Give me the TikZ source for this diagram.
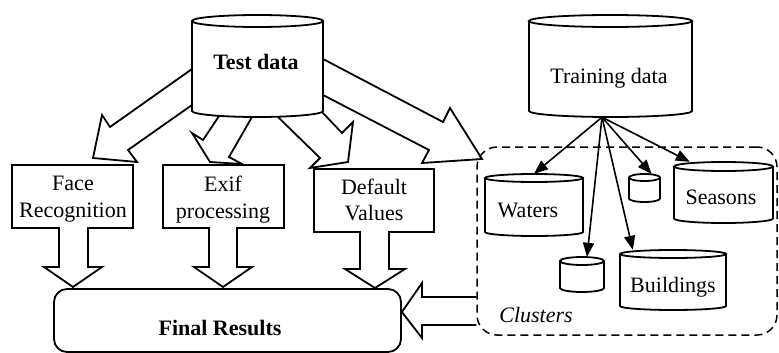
\documentclass[tikz,border=0pt]{standalone}
\usepackage{fontspec}
\setmainfont{Liberation Serif}
\usetikzlibrary{arrows.meta,calc}
\begin{document}
\begin{tikzpicture}[x=1pt,y=-1pt,
  outl/.style={line width=1.8pt, line join=miter},
  conn/.style={line width=1.6pt, -{Triangle[length=14pt,width=11pt]}},
  lbl/.style={font=\fontsize{22}{26.5}\selectfont, align=center, inner sep=0pt},
  hold/.style={inner sep=0pt, draw=none}
]
\useasboundingbox (0,0) rectangle (779,353);

% ---------- cylinders ----------
% Test data
\draw[outl] (192,21) -- (192,111) arc[start angle=180,end angle=0,x radius=65.5,y radius=6] -- (323,21);
\draw[outl] (257.5,21) ellipse[x radius=65.5,y radius=6];
\node[hold, minimum width=131pt, minimum height=102pt] (test) at (257.5,66) {};
\node[lbl, font=\fontsize{22}{26.5}\selectfont\bfseries, anchor=base] (testlbl) at (256,70) {Test data};

% Training data
\draw[outl] (529,21) -- (529,111) arc[start angle=180,end angle=0,x radius=81.5,y radius=6] -- (692,21);
\draw[outl] (610.5,21) ellipse[x radius=81.5,y radius=6];
\node[hold, minimum width=163pt, minimum height=102pt] (train) at (610.5,66) {};
\node[lbl, anchor=base] (trainlbl) at (609,83) {Training data};

% Waters
\draw[outl] (485,178) -- (485,232) arc[start angle=180,end angle=0,x radius=49,y radius=4] -- (583,178);
\draw[outl] (534,178) ellipse[x radius=49,y radius=4];
\node[hold, minimum width=98pt, minimum height=62pt] (waters) at (534,205) {};
\node[lbl, anchor=base] (waterslbl) at (528,217) {Waters};

% small cylinder 1
\draw[outl] (629,177.5) -- (629,198.5) arc[start angle=180,end angle=0,x radius=15.5,y radius=3.5] -- (660,177.5);
\draw[outl] (644.5,177.5) ellipse[x radius=15.5,y radius=3.5];
\node[hold, minimum width=31pt, minimum height=28pt] (scone) at (644.5,188) {};

% Seasons
\draw[outl] (674,166.5) -- (674,218.5) arc[start angle=180,end angle=0,x radius=49.5,y radius=4.5] -- (773,166.5);
\draw[outl] (723.5,166.5) ellipse[x radius=49.5,y radius=4.5];
\node[hold, minimum width=99pt, minimum height=61pt] (seasons) at (723.5,192.5) {};
\node[lbl, anchor=base] (seasonslbl) at (721,204) {Seasons};

% small cylinder 2
\draw[outl] (560,261) -- (560,288) arc[start angle=180,end angle=0,x radius=22,y radius=4] -- (604,261);
\draw[outl] (582,261) ellipse[x radius=22,y radius=4];
\node[hold, minimum width=44pt, minimum height=35pt] (sctwo) at (582,274.5) {};

% Buildings
\draw[outl] (620,254) -- (620,306) arc[start angle=180,end angle=0,x radius=53,y radius=4] -- (726,254);
\draw[outl] (673,254) ellipse[x radius=53,y radius=4];
\node[hold, minimum width=106pt, minimum height=60pt] (buildings) at (673,280) {};
\node[lbl, anchor=base] (buildingslbl) at (673,292) {Buildings};

% ---------- clusters frame ----------
\node[draw, line width=1.5pt, dash pattern=on 8pt off 5pt, rounded corners=20pt,
      minimum width=300pt, minimum height=188pt, inner sep=0pt] (clusters) at (627,241) {};
\node[lbl, font=\fontsize{22}{26.5}\selectfont\itshape, anchor=base] (clusterslbl) at (536,322) {Clusters};

% ---------- training connectors ----------
\coordinate (tsrc) at ($(train.south)+(-8.5,0)$);
\draw[conn] (tsrc) -- (waters.north);
\draw[conn] (tsrc) -- ($(sctwo.north)+(5,0)$);
\draw[conn] (tsrc) -- ($(buildings.north west)+(13,0)$);
\draw[conn] (tsrc) -- ($(scone.north)+(7,0)$);
\draw[conn] (tsrc) -- ($(seasons.north west)+(16,0)$);

% ---------- hollow arrows from test data ----------
\draw[outl] (192,69) -- (110,127) -- (102,115) -- (93,158) -- (137,162) -- (128,150) -- (192,105);
\draw[outl] (219,116) -- (203,140) -- (192,133) -- (210,162) -- (242,164) -- (229,157) -- (252,117);
\draw[outl] (278,117) -- (320,158) -- (310,168) -- (348,162) -- (353,122) -- (342,133) -- (322,112);
\draw[outl] (323,59) -- (443,122) -- (450,108) -- (482,159) -- (422,163) -- (429,150) -- (323,95);

% ---------- process boxes with down arrows ----------
\draw[outl] (12,165) -- (133,165) -- (133,228) -- (88,228) -- (88,267) -- (102,267) -- (73,287)
  -- (44,267) -- (59,267) -- (59,228) -- (12,228) -- cycle;
\node[lbl] (face) at (73,199.4) {Face\\Recognition};

\draw[outl] (163,165) -- (284,165) -- (284,228) -- (237,228) -- (237,267) -- (252,267) -- (223,287)
  -- (194,267) -- (209,267) -- (209,228) -- (163,228) -- cycle;
\node[lbl] (exif) at (223,199.4) {Exif\\processing};

\draw[outl] (314,169) -- (434,169) -- (434,232) -- (389,232) -- (389,269) -- (405,269) -- (375,288)
  -- (345,269) -- (360,269) -- (360,232) -- (314,232) -- cycle;
\node[lbl] (default) at (374,200) {Default\\Values};

% ---------- final results ----------
\node[draw, line width=1.8pt, rounded corners=13pt, minimum width=347pt, minimum height=63pt,
      inner sep=0pt] (final) at (227.5,320.5) {};
\node[lbl, font=\fontsize{22}{26.5}\selectfont\bfseries, anchor=base] (finallbl) at (220,335) {Final Results};

% ---------- arrow from clusters to final ----------
\draw[outl] (clusters.west |- 0,297) -- (422,297) -- (422,283) -- (final.east |- 0,312) -- (422,338) -- (422,325) -- (clusters.west |- 0,325);
\end{tikzpicture}
\end{document}
